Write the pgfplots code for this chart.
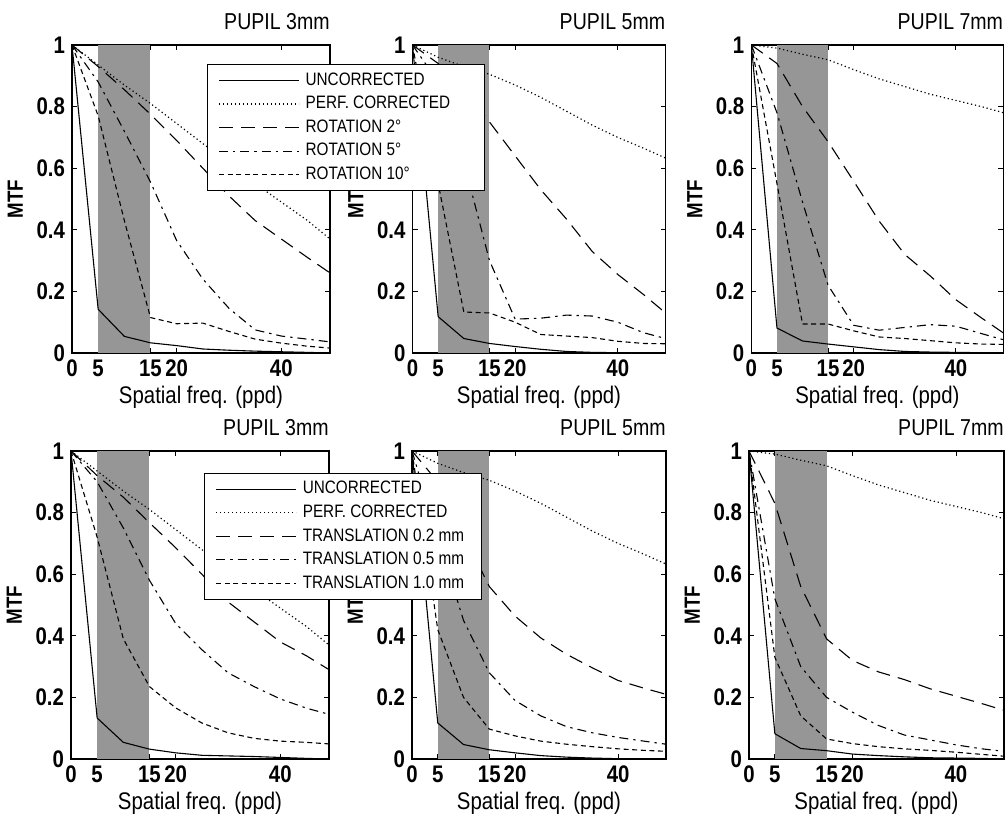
\documentclass[border=0pt]{standalone}
\usepackage{fontspec}
\setmainfont{Liberation Sans}[FakeStretch=0.85]
\usepackage{pgfplots}
\usepackage{pgfplotstable}
\pgfplotsset{compat=1.18}
\definecolor{band}{RGB}{150,150,150}

% MTF readings, rotation (top row) and translation (bottom row)
\pgfplotstableread{
x    unc    perf   a     b     c
0    1      1      1     1     1
5    0.142  0.935  0.93  0.88  0.77
10   0.054  0.87   0.855 0.72  0.43
15   0.033  0.81   0.775 0.555 0.115
20   0.024  0.745  0.69  0.365 0.095
25   0.013  0.68   0.60  0.24  0.097
30   0.009  0.615  0.51  0.145 0.07
35   0.006  0.55   0.43  0.075 0.045
40   0.004  0.49   0.37  0.055 0.032
45   0.002  0.43   0.31  0.045 0.022
49.3 0.0    0.37   0.26  0.036 0.016
}\tabA
\pgfplotstableread{
x    unc    perf   a     b     c
0    1      1      1     1     1
5    0.118  0.96   0.94  0.88  0.55
10   0.047  0.93   0.86  0.62  0.133
15   0.031  0.905  0.75  0.30  0.13
20   0.021  0.87   0.64  0.11  0.10
25   0.012  0.83   0.53  0.113 0.06
30   0.005  0.785  0.435 0.123 0.055
35   0.002  0.74   0.33  0.12  0.05
40   0.001  0.70   0.255 0.10  0.038
45   0.0    0.665  0.19  0.066 0.031
49.3 0.0    0.633  0.13  0.047 0.03
}\tabB
\pgfplotstableread{
x    unc    perf   a     b     c
0    1      1      1     1     1
5    0.081  0.99   0.94  0.78  0.55
10   0.039  0.97   0.80  0.49  0.094
15   0.029  0.952  0.686 0.22  0.094
20   0.02   0.92   0.558 0.09  0.072
25   0.011  0.89   0.428 0.074 0.052
30   0.005  0.865  0.32  0.083 0.047
35   0.003  0.84   0.25  0.092 0.04
40   0.002  0.82   0.173 0.087 0.033
45   0.001  0.80   0.114 0.063 0.029
49.3 0.0    0.78   0.065 0.043 0.028
}\tabC
\pgfplotstableread{
x    unc    perf   a     b     c
0    1      1      1     1     1
5    0.133  0.935  0.92  0.90  0.72
10   0.054  0.87   0.85  0.75  0.39
15   0.032  0.81   0.767 0.58  0.235
20   0.02   0.745  0.686 0.44  0.166
25   0.012  0.68   0.60  0.355 0.117
30   0.01   0.615  0.51  0.28  0.085
35   0.008  0.55   0.445 0.235 0.067
40   0.005  0.49   0.38  0.195 0.058
45   0.002  0.43   0.335 0.165 0.054
49.3 0.0    0.37   0.29  0.145 0.049
}\tabD
\pgfplotstableread{
x    unc    perf   a     b     c
0    1      1      1     1     1
5    0.117  0.96   0.90  0.72  0.42
10   0.047  0.93   0.73  0.45  0.20
15   0.03   0.905  0.56  0.28  0.097
20   0.02   0.87   0.464 0.19  0.075
25   0.011  0.83   0.393 0.14  0.058
30   0.006  0.785  0.34  0.105 0.048
35   0.003  0.74   0.296 0.085 0.04
40   0.001  0.70   0.255 0.07  0.033
45   0.0    0.665  0.23  0.058 0.028
49.3 0.0    0.633  0.21  0.048 0.025
}\tabE
\pgfplotstableread{
x    unc    perf   a     b     c
0    1      1      1     1     1
5    0.082  0.99   0.83  0.52  0.33
10   0.034  0.97   0.56  0.30  0.14
15   0.027  0.952  0.39  0.20  0.065
20   0.016  0.92   0.32  0.152 0.05
25   0.011  0.89   0.283 0.109 0.04
30   0.007  0.865  0.258 0.078 0.033
35   0.004  0.84   0.228 0.062 0.028
40   0.003  0.82   0.204 0.046 0.022
45   0.002  0.80   0.18  0.033 0.015
49.3 0.0    0.78   0.158 0.025 0.009
}\tabF

\pgfplotsset{
  sUnc/.style={black, solid, line width=0.55pt},
  sPerf/.style={black, line width=0.6pt, dash pattern=on 0.6pt off 1.4pt},
  sLong/.style={black, line width=0.55pt, dash pattern=on 7pt off 4pt},
  sDD/.style={black, line width=0.55pt, dash pattern=on 4.5pt off 2.5pt on 1.2pt off 2.5pt},
  sShort/.style={black, line width=0.55pt, dash pattern=on 2.5pt off 1.8pt},
  mtf/.style={
    anchor=south west, scale only axis, height=154pt,
    xmin=0, xmax=49.3, ymin=0, ymax=1,
    xtick={0,5,15,20,40}, xticklabels={0,5,15,20,40},
    ytick={0,0.2,0.4,0.6,0.8,1}, yticklabels={0,0.2,0.4,0.6,0.8,1},
    tick align=inside, tick pos=both, major tick length=2.5pt,
    tick style={black, line width=0.4pt},
    axis line style={line width=0.6pt},
    ticklabel style={font=\bfseries\fontsize{12}{12}\selectfont},
    xlabel={Spatial freq. (ppd)}, ylabel={MTF},
    xlabel style={font=\fontsize{12}{12}\selectfont, yshift=2.5pt},
    ylabel style={font=\bfseries\fontsize{11}{11}\selectfont},
    title style={at={(1,1)}, anchor=south east, inner sep=0pt, yshift=1.5pt,
      font=\fontsize{11.5}{11.5}\selectfont},
    legend cell align=left,
    legend style={anchor=north west, font=\fontsize{9}{9}\selectfont,
      draw=black, line width=0.5pt, fill=white, row sep=0pt},
    legend image code/.code={
      \path (0pt,0pt) (43.5pt,0pt);
      \draw[#1] (2.5pt,0pt) -- (42.5pt,0pt);},
  },
}

\begin{document}
\begin{tikzpicture}
\useasboundingbox (0,0) rectangle (503.5pt,409.5pt);

% top row: rotation (panel 1 last so its legend covers panel 2)
\begin{axis}[mtf, at={(206.25pt,233pt)}, width=126.5pt, title={PUPIL 5mm}]
\addplot[fill=band, draw=none, forget plot] coordinates {(5,1) (15,1)} \closedcycle;
\addplot[sUnc] table[y=unc]{\tabB};
\addplot[sPerf] table[y=perf]{\tabB};
\addplot[sLong] table[y=a]{\tabB};
\addplot[sDD] table[y=b]{\tabB};
\addplot[sShort] table[y=c]{\tabB};
\end{axis}

\begin{axis}[mtf, at={(375.7pt,233pt)}, width=126pt, title={PUPIL 7mm}]
\addplot[fill=band, draw=none, forget plot] coordinates {(5,1) (15,1)} \closedcycle;
\addplot[sUnc] table[y=unc]{\tabC};
\addplot[sPerf] table[y=perf]{\tabC};
\addplot[sLong] table[y=a]{\tabC};
\addplot[sDD] table[y=b]{\tabC};
\addplot[sShort] table[y=c]{\tabC};
\end{axis}

\begin{axis}[mtf, at={(36pt,233pt)}, width=129pt, title={PUPIL 3mm},
  legend style={at={(0.523,0.938)}}]
\addplot[fill=band, draw=none, forget plot] coordinates {(5,1) (15,1)} \closedcycle;
\addplot[sUnc] table[y=unc]{\tabA};
\addlegendentry{\makebox[84.5pt][l]{UNCORRECTED}}
\addplot[sPerf] table[y=perf]{\tabA};
\addlegendentry{PERF. CORRECTED}
\addplot[sLong] table[y=a]{\tabA};
\addlegendentry{ROTATION 2°}
\addplot[sDD] table[y=b]{\tabA};
\addlegendentry{ROTATION 5°}
\addplot[sShort] table[y=c]{\tabA};
\addlegendentry{ROTATION 10°}
\end{axis}

% bottom row: translation
\begin{axis}[mtf, at={(206pt,30pt)}, width=127pt, title={PUPIL 5mm}]
\addplot[fill=band, draw=none, forget plot] coordinates {(5,1) (15,1)} \closedcycle;
\addplot[sUnc] table[y=unc]{\tabE};
\addplot[sPerf] table[y=perf]{\tabE};
\addplot[sLong] table[y=a]{\tabE};
\addplot[sDD] table[y=b]{\tabE};
\addplot[sShort] table[y=c]{\tabE};
\end{axis}

\begin{axis}[mtf, at={(374.5pt,30pt)}, width=127.5pt, title={PUPIL 7mm}]
\addplot[fill=band, draw=none, forget plot] coordinates {(5,1) (15,1)} \closedcycle;
\addplot[sUnc] table[y=unc]{\tabF};
\addplot[sPerf] table[y=perf]{\tabF};
\addplot[sLong] table[y=a]{\tabF};
\addplot[sDD] table[y=b]{\tabF};
\addplot[sShort] table[y=c]{\tabF};
\end{axis}

\begin{axis}[mtf, at={(35.5pt,30pt)}, width=129pt, title={PUPIL 3mm},
  legend style={at={(0.516,0.929)}}]
\addplot[fill=band, draw=none, forget plot] coordinates {(5,1) (15,1)} \closedcycle;
\addplot[sUnc] table[y=unc]{\tabD};
\addlegendentry{\makebox[84.5pt][l]{UNCORRECTED}}
\addplot[sPerf] table[y=perf]{\tabD};
\addlegendentry{PERF. CORRECTED}
\addplot[sLong] table[y=a]{\tabD};
\addlegendentry{TRANSLATION 0.2 mm}
\addplot[sDD] table[y=b]{\tabD};
\addlegendentry{TRANSLATION 0.5 mm}
\addplot[sShort] table[y=c]{\tabD};
\addlegendentry{TRANSLATION 1.0 mm}
\end{axis}
\end{tikzpicture}
\end{document}
